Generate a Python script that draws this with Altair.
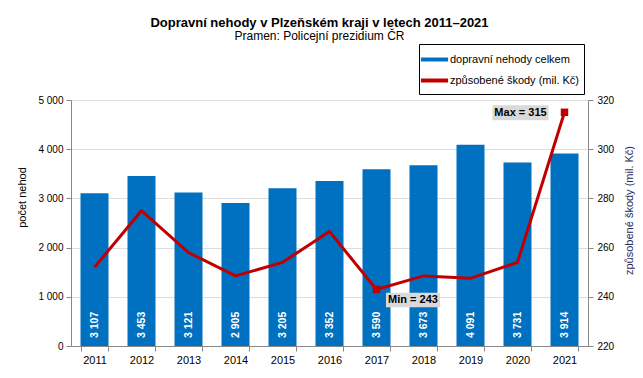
import altair as alt
import pandas as pd

years = ["2011", "2012", "2013", "2014", "2015", "2016", "2017", "2018", "2019", "2020", "2021"]
nehody = [3107, 3453, 3121, 2905, 3205, 3352, 3590, 3673, 4091, 3731, 3914]
skody = [252, 275, 258, 248.5, 254, 266.5, 243, 248.5, 247.5, 254, 315]
series_names = ["dopravní nehody celkem", "způsobené škody (mil. Kč)"]
left_ticks = [0, 1000, 2000, 3000, 4000, 5000]
right_ticks = [220, 240, 260, 280, 300, 320]

BLUE = "#0070C0"
RED = "#C00000"
FONT = "Liberation Sans"

df = pd.DataFrame({
    "rok": years,
    "nehody": nehody,
    "skody": skody,
    "lbl": [f"{v:,}".replace(",", " ") for v in nehody],
    "s1": series_names[0],
    "s2": series_names[1],
})
df["ann"] = ""
imax = df["skody"].idxmax()
imin = df["skody"].idxmin()
df.loc[imax, "ann"] = f"Max = {df.loc[imax, 'skody']:g}"
df.loc[imin, "ann"] = f"Min = {df.loc[imin, 'skody']:g}"

xenc = alt.X("rok:N", sort=years, title=None,
             scale=alt.Scale(paddingInner=0.41, paddingOuter=0.205),
             axis=alt.Axis(labelAngle=0, tickBand="extent", grid=False,
                           labelPadding=3, labelFontSize=11))

color_scale = alt.Scale(domain=series_names, range=[BLUE, RED])

yleft = alt.Y("nehody:Q", scale=alt.Scale(domain=[0, 5000]),
              axis=alt.Axis(title="počet nehod", values=left_ticks, grid=True,
                            labelExpr="replace(format(datum.value, ',d'), ',', ' ')",
                            titleX=-49, titleY=97, titleAngle=270,
                            titleAlign="center", titleBaseline="middle",
                            titleFontWeight="normal", titleFontSize=11,
                            titleColor="#000000", labelPadding=3))

base = alt.Chart(df)

bars = base.mark_bar(size=28).encode(
    x=xenc,
    y=yleft,
    color=alt.Color("s1:N", scale=color_scale, title=None,
                    legend=alt.Legend(orient="none", legendX=348, legendY=-56,
                                      symbolType="M-1.6,0H1.6", symbolSize=289,
                                      symbolStrokeWidth=4, labelFontSize=11,
                                      labelFont=FONT, labelColor="#000000",
                                      strokeColor="#000000", fillColor="#FFFFFF",
                                      padding=5, rowPadding=2, labelOffset=5,
                                      symbolOffset=0)),
)

bar_text = base.mark_text(angle=270, align="left", baseline="middle",
                          color="white", fontSize=10.5, fontWeight="bold",
                          font=FONT, yOffset=-8).encode(
    x=xenc,
    y=alt.datum(0),
    text="lbl:N",
)

left = alt.layer(bars, bar_text)

yright = alt.Y("skody:Q", scale=alt.Scale(domain=[220, 320], zero=False),
               axis=alt.Axis(title="způsobené škody (mil. Kč)", orient="right",
                             values=right_ticks, grid=False,
                             titleX=41, titleY=110, titleAngle=270,
                             titleAlign="center", titleBaseline="middle",
                             titleFontWeight="normal", titleFontSize=11,
                             titleColor="#1F2A5C", labelPadding=4))

line = base.mark_line(strokeWidth=3).encode(
    x=xenc,
    y=yright,
    color=alt.Color("s2:N", scale=color_scale, title=None),
)

ext = base.transform_filter("datum.ann != ''")

markers = ext.mark_square(size=56, color=RED, opacity=1).encode(x=xenc, y=yright)

max_f = base.transform_filter(f"datum.skody == {df['skody'].max()}")
min_f = base.transform_filter(f"datum.skody == {df['skody'].min()}")

BOX = "M-1,-0.27H1V0.27H-1Z"
max_box = max_f.mark_point(shape=BOX, size=3136, filled=True, color="#D9D9D9",
                           opacity=1, strokeWidth=0, xOffset=-44, yOffset=0.5).encode(x=xenc, y=yright)
max_txt = max_f.mark_text(fontSize=11, fontWeight="bold", font=FONT, color="black",
                          xOffset=-44, yOffset=1).encode(x=xenc, y=yright, text="ann:N")
min_box = min_f.mark_point(shape=BOX, size=2916, filled=True, color="#D9D9D9",
                           opacity=1, strokeWidth=0, xOffset=36.5, yOffset=10.5).encode(x=xenc, y=yright)
min_txt = min_f.mark_text(fontSize=11, fontWeight="bold", font=FONT, color="black",
                          xOffset=36.5, yOffset=11).encode(x=xenc, y=yright, text="ann:N")

right = alt.layer(line, markers, max_box, max_txt, min_box, min_txt)

chart = alt.layer(left, right).resolve_scale(y="independent").properties(
    width=517, height=246,
    autosize="none",
    padding={"left": 63, "top": 92, "right": 47, "bottom": 20},
    title=alt.TitleParams(
        text="Dopravní nehody v Plzeňském kraji v letech 2011–2021",
        subtitle="Pramen: Policejní prezidium ČR",
        anchor="middle", frame="group", dx=-10, offset=2,
        font=FONT, fontSize=13, fontWeight="bold", color="#000000",
        subtitleFont=FONT, subtitleFontSize=12, subtitleColor="#000000",
        subtitlePadding=1,
    ),
).configure_view(stroke="#000000", strokeWidth=1).configure_axis(
    domainColor="#000000", tickColor="#000000", labelColor="#000000",
    labelFont=FONT, titleFont=FONT, tickSize=5, gridColor="#BFBFBF",
    labelFontSize=11,
).configure(background="white")

chart.save("out.html", embed_options={"renderer": "svg", "actions": False})
